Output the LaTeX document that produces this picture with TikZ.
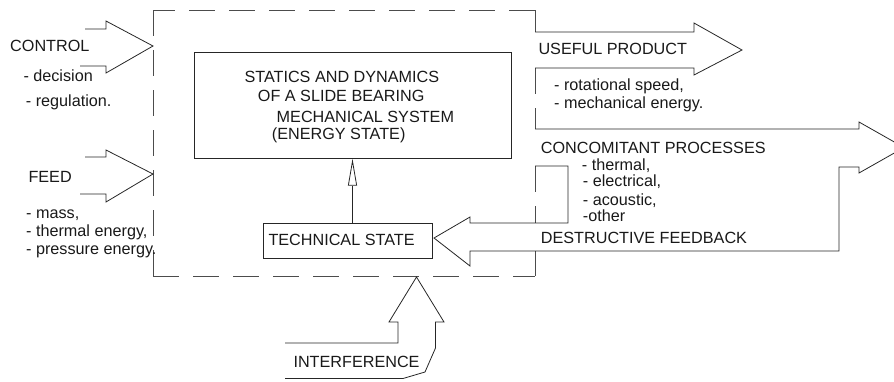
\documentclass[tikz,border=0pt]{standalone}
\usepackage{fontspec}
\setmainfont{Liberation Sans}
\usetikzlibrary{arrows.meta}
\begin{document}
\begin{tikzpicture}[x=1pt,y=-1pt,
  line/.style={draw=black!85, line width=0.8pt, line join=miter},
  dashline/.style={draw=black!70, line width=0.8pt, dash pattern=on 26pt off 14pt},
  lbl/.style={anchor=base west, inner sep=0pt, font=\fontsize{16.2}{19}\selectfont, text=black!90},
  boxnode/.style={draw=black!85, line width=0.8pt, inner sep=0pt, rectangle},
  openarrow/.style={line, -{Triangle[open, length=27pt, width=9pt]}}]
\useasboundingbox (0,0) rectangle (894,381);

% dashed system boundary
\draw[dashline, dash phase=4pt] (153,10) -- (535,10);
\draw[dashline] (153,10) -- (153,276);
\draw[dashline] (153,276) -- (535,276);
\draw[dashline] (535,10) -- (535,32);
\draw[dashline] (535,68) -- (535,129);
\draw[dashline] (535,166) -- (535,223);
\draw[dashline] (535,251) -- (535,276);

% boxes
\node[boxnode, minimum width=317pt, minimum height=105.6pt] (main) at (352.5,105.5) {};
\node[boxnode, minimum width=169.4pt, minimum height=35pt] (tech) at (348,240.8) {};
\node[lbl] (techtxt) at (268.3,245) {TECHNICAL STATE};

\node[lbl] (m1) at (244.3,82.3) {STATICS AND DYNAMICS};
\node[lbl] (m2) at (257.7,101.7) {OF A SLIDE BEARING};
\node[lbl] (m3) at (276.5,122.5) {MECHANICAL SYSTEM};
\node[lbl] (m4) at (271.7,139) {(ENERGY STATE)};

\draw[openarrow] (main.south |- tech.north) -- (main.south);

% input arrows
\draw[line] (85,29) -- (106,29) -- (106,21) -- (153,46) -- (106,73) -- (106,66) -- (80,66);
\draw[line] (85,157) -- (106,157) -- (106,150) -- (153,174) -- (106,202) -- (106,194) -- (80,194);

\node[lbl] (control) at (10,51.7) {CONTROL};
\node[lbl] (c1) at (23.3,81.7) {- decision};
\node[lbl] (c2) at (25.7,106) {- regulation.};
\node[lbl] (feed) at (28.3,182.7) {FEED};
\node[lbl] (f1) at (26,218.3) {- mass,};
\node[lbl] (f2) at (26,236.7) {- thermal energy,};
\node[lbl] (f3) at (26,254.3) {- pressure energy.};

% useful product arrow
\draw[line] (535,32) -- (694,32) -- (694,23) -- (742,50) -- (694,75) -- (694,68) -- (535,68);
\node[lbl] (useful) at (538.3,54.3) {USEFUL PRODUCT};
\node[lbl] (u1) at (554,90.7) {- rotational speed,};
\node[lbl] (u2) at (554,108.3) {- mechanical energy.};

% concomitant processes / destructive feedback arrow
\draw[line] (535,129) -- (859,129) -- (859,122) -- (904,147.5) -- (859,173) -- (859,167)
  -- (839,167) -- (839,251) -- (470,251) -- (470,266) -- (434,238) -- (470,217)
  -- (470,223) -- (568,223) -- (568,166) -- (535,166);
\node[lbl] (conc) at (540.7,153.3) {CONCOMITANT PROCESSES};
\node[lbl] (k1) at (581.7,170) {- thermal,};
\node[lbl] (k2) at (582.7,186.7) {- electrical,};
\node[lbl] (k3) at (582.7,205) {- acoustic,};
\node[lbl] (k4) at (582.7,221.7) {-other};
\node[lbl] (destr) at (540.7,243.3) {DESTRUCTIVE FEEDBACK};

% interference arrow
\draw[line] (285,343) -- (398,343) -- (398,322) -- (389,322) -- (416.5,277) -- (444,322)
  -- (435.5,322) -- (435.5,348) -- (425,372) -- (403,378.5) -- (285,378.5);
\node[lbl] (interf) at (293.3,367.7) {INTERFERENCE};
\end{tikzpicture}
\end{document}
